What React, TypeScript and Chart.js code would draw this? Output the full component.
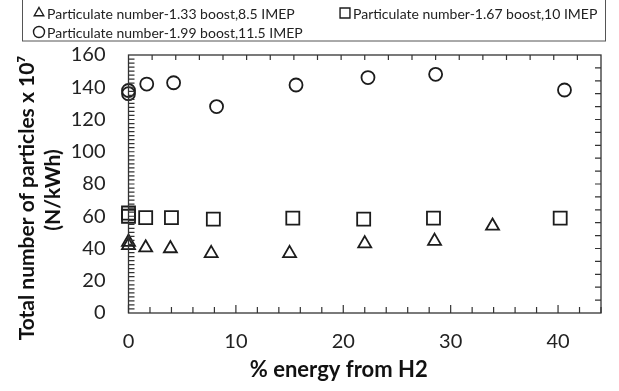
import React, { useEffect, useRef } from 'react';
import { Chart, registerables } from 'chart.js';
import { drawPoint } from 'chart.js/helpers';

Chart.register(...registerables);

// ---- data ----
const seriesLabels = [
  'Particulate number-1.33 boost,8.5 IMEP',
  'Particulate number-1.67 boost,10 IMEP',
  'Particulate number-1.99 boost,11.5 IMEP',
];
const triX = [0, 0, 1.6, 3.9, 7.7, 15.0, 22.0, 28.5, 33.9];
const triY = [44, 42, 40.5, 40, 37, 37, 43, 44.6, 54];
const sqX = [0, 0, 1.6, 4.0, 7.9, 15.3, 21.9, 28.4, 40.2];
const sqY = [62, 60, 59.2, 59.2, 58.2, 58.8, 58.2, 58.8, 58.8];
const cirX = [0, 0, 1.7, 4.2, 8.2, 15.6, 22.3, 28.6, 40.6];
const cirY = [138, 136, 142, 142.8, 128, 141.4, 146, 148, 138.3];

const xMin = 0;
const xMax = 44;
const xLabelStep = 10;
const yMin = 0;
const yMax = 160;
const yLabelStep = 20;
const bottomMinorStep = 2;
const topDivisions = 20;
const leftMinorStep = 2.5;
const rightDivisions = 20;

const xTitle = '% energy from H2';
const yTitle = ['Total number of particles x 10\u2077', '(N/kWh)'];

const INK = '#1c1c1c';
const FONT = 'Lato, "Open Sans", sans-serif';

const toPts = (xs: number[], ys: number[]) => xs.map((x, i) => ({ x, y: ys[i] }));

const framePlugin = {
  id: 'frameTicks',
  afterDatasetsDraw(chart: any) {
    const { ctx, chartArea: a, scales } = chart;
    const xs = scales.x;
    const ys = scales.y;
    ctx.save();
    ctx.strokeStyle = '#333';
    ctx.lineWidth = 1.3;
    ctx.strokeRect(a.left, a.top, a.right - a.left, a.bottom - a.top);
    ctx.lineWidth = 1.2;
    ctx.beginPath();
    for (let v = xMin; v <= xMax + 1e-6; v += bottomMinorStep) {
      const px = xs.getPixelForValue(v);
      const len = v % xLabelStep === 0 ? 8 : 6;
      ctx.moveTo(px, a.bottom);
      ctx.lineTo(px, a.bottom - len);
    }
    for (let i = 1; i < topDivisions; i++) {
      const v = xMin + ((xMax - xMin) * i) / topDivisions;
      const px = xs.getPixelForValue(v);
      ctx.moveTo(px, a.top);
      ctx.lineTo(px, a.top + 5);
    }
    for (let v = yMin + leftMinorStep; v < yMax; v += leftMinorStep) {
      const py = ys.getPixelForValue(v);
      ctx.moveTo(a.left, py);
      ctx.lineTo(a.left + 6, py);
    }
    for (let i = 1; i < rightDivisions; i++) {
      const v = yMin + ((yMax - yMin) * i) / rightDivisions;
      const py = ys.getPixelForValue(v);
      ctx.moveTo(a.right, py);
      ctx.lineTo(a.right - 6, py);
    }
    ctx.stroke();

    // axis titles
    ctx.fillStyle = '#111';
    ctx.textAlign = 'center';
    ctx.textBaseline = 'middle';
    const cx = (a.left + a.right) / 2;
    const cy = (a.top + a.bottom) / 2;
    ctx.font = `bold 22px ${FONT}`;
    ctx.fillText(xTitle, cx - 26, a.bottom + 57);
    ctx.save();
    ctx.translate(27, cy + 14);
    ctx.rotate(-Math.PI / 2);
    ctx.font = `bold 21px ${FONT}`;
    ctx.fillText(yTitle[0], 0, 0);
    ctx.restore();
    ctx.save();
    ctx.translate(53, cy + 6);
    ctx.rotate(-Math.PI / 2);
    ctx.font = `bold 21px ${FONT}`;
    ctx.fillText(yTitle[1], 0, 0);
    ctx.restore();
    ctx.restore();
  },
};

const legendPlugin = {
  id: 'boxLegend',
  afterDraw(chart: any) {
    const { ctx } = chart;
    ctx.save();
    ctx.strokeStyle = '#555';
    ctx.lineWidth = 1;
    ctx.strokeRect(22.5, -1, 583, 42);
    const slots = [
      { x: 39, y: 13 },
      { x: 345, y: 13 },
      { x: 39, y: 32 },
    ];
    ctx.font = `14px ${FONT}`;
    ctx.textBaseline = 'middle';
    chart.data.datasets.forEach((ds: any, i: number) => {
      const s = slots[i];
      ctx.strokeStyle = INK;
      ctx.fillStyle = 'rgba(0,0,0,0)';
      ctx.lineWidth = 1.4;
      drawPoint(ctx, { pointStyle: ds.pointStyle, radius: ds.pointStyle === 'rect' ? 7 : 5.5, rotation: 0, borderWidth: 1.4 }, s.x, s.y);
      ctx.fillStyle = '#222';
      ctx.fillText(ds.label, s.x + 8, s.y + 1);
    });
    ctx.restore();
  },
};

export default function App() {
  const ref = useRef<HTMLCanvasElement>(null);
  useEffect(() => {
    if (!ref.current) return;
    const mk = (label: string, data: any[], pointStyle: string, radius: number) => ({
      label,
      data,
      pointStyle,
      pointRadius: radius,
      pointBorderWidth: 1.8,
      pointBorderColor: INK,
      pointBackgroundColor: 'rgba(0,0,0,0)',
      showLine: false,
      clip: false,
    });
    const chart = new Chart(ref.current, {
      type: 'scatter',
      data: {
        datasets: [
          mk(seriesLabels[0], toPts(triX, triY), 'triangle', 7.5),
          mk(seriesLabels[1], toPts(sqX, sqY), 'rect', 9.2),
          mk(seriesLabels[2], toPts(cirX, cirY), 'circle', 6.5),
        ],
      },
      options: {
        responsive: false,
        animation: false,
        layout: { padding: { left: 0, top: 55, right: 18, bottom: 0 } },
        plugins: {
          legend: { display: false },
          tooltip: { enabled: false },
        },
        scales: {
          x: {
            type: 'linear',
            min: xMin,
            max: xMax,
            grid: { display: false, drawTicks: false },
            border: { display: false },
            ticks: {
              stepSize: xLabelStep,
              includeBounds: false,
              padding: 17,
              color: '#222',
              font: { family: FONT, size: 20 },
            },
            afterFit: (s: any) => { s.height = 78; },
          },
          y: {
            type: 'linear',
            min: yMin,
            max: yMax,
            grid: { display: false, drawTicks: false },
            border: { display: false },
            ticks: {
              stepSize: yLabelStep,
              padding: 23,
              color: '#222',
              font: { family: FONT, size: 20 },
            },
            afterFit: (s: any) => { s.width = 128.5; },
          },
        },
      },
      plugins: [framePlugin, legendPlugin],
    } as any);
    return () => chart.destroy();
  }, []);
  return (
    <div style={{ position: 'absolute', left: 0, top: 0, width: 619, height: 391, background: '#fff' }}>
      <canvas ref={ref} width={619} height={391} />
    </div>
  );
}
